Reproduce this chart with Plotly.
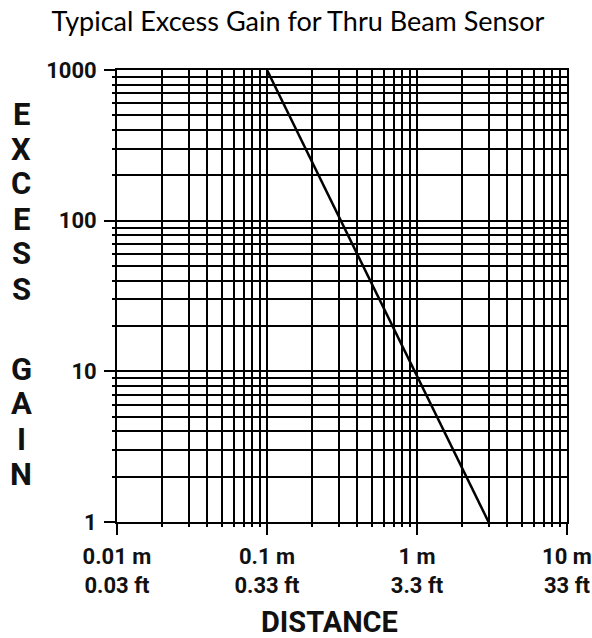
import plotly.graph_objects as go

# curve (distance in m, excess gain)
distance_m = [0.1, 3.0]
excess_gain = [1000, 1]

x_ticks = [0.01, 0.1, 1, 10]
x_labels = ["0.01 m<br>0.03 ft", "0.1 m<br>0.33 ft", "1 m<br>3.3 ft", "10 m<br>33 ft"]
y_ticks = [1, 10, 100, 1000]
y_labels = ["1", "10", "100", "1000"]

x_minor = [m * 10 ** e for e in (-2, -1, 0) for m in range(2, 10)]
y_minor = [m * 10 ** e for e in (0, 1, 2) for m in range(2, 10)]

cond = "Roboto, DejaVu Sans Condensed, sans-serif"
ink = "#111111"

# figure / plot-area geometry in pixels
W, H = 592, 638
L, R, T, B = 117, 25, 70, 116
PW, PH = W - L - R, H - T - B


def px_x(xp):
    return (xp - L) / PW


def px_y(yp):
    return (H - B - yp) / PH


fig = go.Figure(go.Scatter(
    x=distance_m, y=excess_gain, mode="lines",
    line=dict(color="black", width=2.5),
    hoverinfo="x+y"
))

axis_common = dict(
    type="log",
    automargin=False,
    showline=True, linecolor="black", linewidth=1.8, mirror=True,
    showgrid=True, gridcolor="black", gridwidth=1.7,
    ticks="outside", ticklen=11, tickwidth=1.6, tickcolor="black",
    tickmode="array",
    zeroline=False,
    ticklabeloverflow="allow",
    tickfont=dict(family=cond, size=22, color=ink, weight="bold"),
)

fig.update_xaxes(
    **axis_common,
    range=[-2, 1.0001],
    tickvals=x_ticks, ticktext=x_labels,
    ticklabelstandoff=3,
    minor=dict(tickmode="array", tickvals=x_minor, showgrid=True,
               gridcolor="black", gridwidth=1.7,
               ticks="outside", ticklen=3, tickcolor="black"),
)
fig.update_yaxes(
    **axis_common,
    range=[0, 3],
    tickvals=y_ticks, ticktext=y_labels,
    ticklabelstandoff=3,
    minor=dict(tickmode="array", tickvals=y_minor, showgrid=True,
               gridcolor="black", gridwidth=1.7,
               ticks="outside", ticklen=3, tickcolor="black"),
)

# vertical stacked y-axis title
letters = ["E", "X", "C", "E", "S", "S", "G", "A", "I", "N"]
letter_y = [114, 149, 184, 219, 254, 289, 369, 404, 439, 474]
for ch, yp in zip(letters, letter_y):
    fig.add_annotation(
        text=ch, x=px_x(21), y=px_y(yp), xref="paper", yref="paper",
        showarrow=False, xanchor="center", yanchor="middle",
        font=dict(family=cond, size=31, color=ink, weight="bold"),
    )

fig.add_annotation(
    text="DISTANCE", x=px_x(329), y=px_y(622),
    xref="paper", yref="paper", showarrow=False,
    xanchor="center", yanchor="middle",
    font=dict(family=cond, size=29, color=ink, weight="bold"),
)

fig.update_layout(
    width=W, height=H,
    margin=dict(l=L, r=R, t=T, b=B, autoexpand=False),
    paper_bgcolor="white", plot_bgcolor="white",
    showlegend=False,
    title=dict(
        text="Typical Excess Gain for Thru Beam Sensor",
        x=298 / W, xanchor="center", y=1 - 22 / H, yanchor="middle",
        font=dict(family="Lato, Open Sans, sans-serif", size=27, color="black"),
    ),
)

fig.write_html("out.html", config={"displayModeBar": False},
               post_script="document.body.style.margin='0';")
